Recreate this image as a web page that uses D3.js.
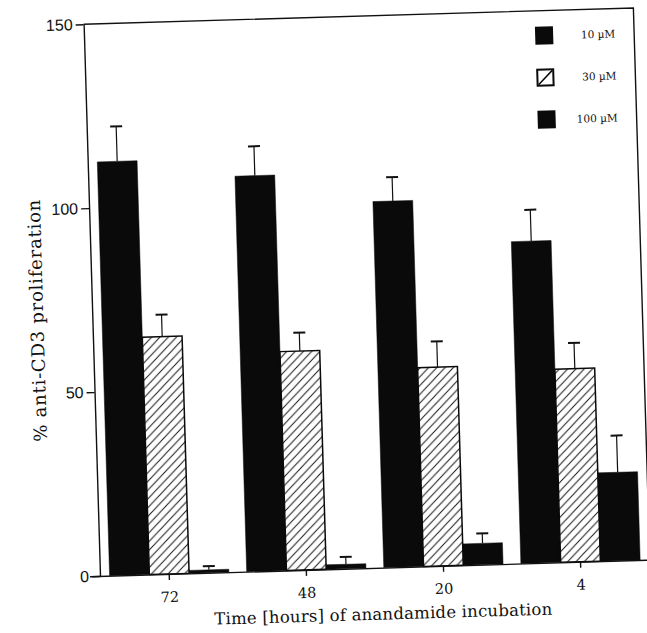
<!DOCTYPE html>
<html>
<head>
<meta charset="utf-8">
<script src="https://cdn.jsdelivr.net/npm/d3@7"></script>
<style>
    body { margin: 0; background: #fff; }
</style>
</head>
<body>
<div class="barChart"></div>
<script>
// values
var groups   = ["72", "48", "20", "4"];
var series   = ["10 \u00b5M", "30 \u00b5M", "100 \u00b5M"];
var vals10   = [112.5, 107.5, 99.5, 87.5];
var err10    = [9.5, 8, 6.5, 8.5];
var vals30   = [64.5, 59.5, 54, 52.5];
var err30    = [6, 5, 7, 7];
var vals100  = [0.8, 1.2, 5.8, 24];
var err100   = [1, 2, 2.7, 10];
var yTicks   = [0, 50, 100, 150];

function barChart ()
{
    var width  = 647;
    var height = 633;
    var plotW  = 550;
    var plotH  = 552;

    var canvas = d3.select(".barChart")
        .append("svg")
        .attr("width", width)
        .attr("height", height);

    // hatch for the 30 uM bars
    var defs = canvas.append("defs");
    defs.append("pattern")
        .attr("id", "hatch")
        .attr("patternUnits", "userSpaceOnUse")
        .attr("width", 8.5)
        .attr("height", 8.5)
        .call(function (p)
        {
            p.append("rect").attr("width", 8.5).attr("height", 8.5).attr("fill", "#fff");
            p.append("path")
                .attr("d", "M-2,2 L2,-2 M0,8.5 L8.5,0 M6.5,10.5 L10.5,6.5")
                .attr("stroke", "#111")
                .attr("stroke-width", 1);
        });

    // the scan is tilted a little, so is the whole chart
    var group = canvas.append("g")
        .attr("transform", "translate(100,576) rotate(-1.7)");

    var x = d3.scaleBand()
        .domain(groups)
        .range([0, plotW])
        .paddingInner(0.13)
        .paddingOuter(0.07);

    var xs = d3.scaleBand()
        .domain(series)
        .range([0, x.bandwidth()]);

    var y = d3.scaleLinear()
        .domain([0, 150])
        .range([0, -plotH]);

    var rows = [];
    var allVals = [vals10, vals30, vals100];
    var allErrs = [err10, err30, err100];
    groups.forEach(function (g, i)
    {
        series.forEach(function (s, j)
        {
            rows.push({ group: g, series: s, idx: j, value: allVals[j][i], err: allErrs[j][i] });
        });
    });

    // frame (top + right)
    group.append("path")
        .attr("d", "M0," + y(150) + " L" + plotW + "," + y(150) + " L" + plotW + "," + y(0))
        .attr("fill", "none")
        .attr("stroke", "#111")
        .attr("stroke-width", 1.4);

    var bars = group.selectAll(".bar")
        .data(rows)
        .enter()
        .append("g")
        .attr("class", "bar");

    bars.append("rect")
        .attr("x", function (d) { return x(d.group) + xs(d.series); })
        .attr("y", function (d) { return y(d.value); })
        .attr("width", xs.bandwidth())
        .attr("height", function (d) { return y(0) - y(d.value); })
        .attr("fill", function (d) { return d.idx == 1 ? "url(#hatch)" : "#0a0a0a"; })
        .attr("stroke", "#0a0a0a")
        .attr("stroke-width", function (d) { return d.idx == 1 ? 1.5 : 0.5; });

    // error bars, upper half only
    bars.append("line")
        .attr("x1", function (d) { return x(d.group) + xs(d.series) + xs.bandwidth() / 2; })
        .attr("x2", function (d) { return x(d.group) + xs(d.series) + xs.bandwidth() / 2; })
        .attr("y1", function (d) { return y(d.value); })
        .attr("y2", function (d) { return y(d.value + d.err); })
        .attr("stroke", "#111")
        .attr("stroke-width", 1.2);

    bars.append("line")
        .attr("x1", function (d) { return x(d.group) + xs(d.series) + xs.bandwidth() / 2 - 6; })
        .attr("x2", function (d) { return x(d.group) + xs(d.series) + xs.bandwidth() / 2 + 6; })
        .attr("y1", function (d) { return y(d.value + d.err); })
        .attr("y2", function (d) { return y(d.value + d.err); })
        .attr("stroke", "#111")
        .attr("stroke-width", 2);

    // axes
    var yAxis = group.append("g")
        .call(d3.axisLeft(y).tickValues(yTicks).tickSize(8).tickSizeOuter(0).tickPadding(3));
    yAxis.selectAll("path, line").attr("stroke", "#111").attr("stroke-width", 1.4);
    yAxis.selectAll("text")
        .attr("fill", "#111")
        .style("font-family", "'Liberation Sans', Arial, sans-serif")
        .style("font-size", "16px");

    var xAxis = group.append("g")
        .call(d3.axisBottom(x).tickSize(6).tickSizeOuter(0));
    xAxis.select(".domain").attr("d", "M-10,0.5 H" + plotW);
    xAxis.selectAll("path, line").attr("stroke", "#111").attr("stroke-width", 1.4);
    xAxis.selectAll("text")
        .attr("y", 28)
        .attr("dy", null)
        .attr("fill", "#111")
        .style("font-family", "'DejaVu Serif', serif")
        .style("font-size", "14.5px");

    // axis titles
    group.append("text")
        .attr("transform", "translate(-49," + (-257) + ") rotate(-90)")
        .attr("text-anchor", "middle")
        .attr("textLength", 242)
        .attr("fill", "#111")
        .style("font-family", "'DejaVu Serif', serif")
        .style("font-size", "18px")
        .text("% anti-CD3 proliferation");

    group.append("text")
        .attr("x", 282)
        .attr("y", 52)
        .attr("text-anchor", "middle")
        .attr("textLength", 338)
        .attr("fill", "#111")
        .style("font-family", "'DejaVu Serif', serif")
        .style("font-size", "16.5px")
        .text("Time [hours] of anandamide incubation");

    // legend
    var legend = group.selectAll(".legend")
        .data(series)
        .enter()
        .append("g")
        .attr("class", "legend")
        .attr("transform", function (d, i) { return "translate(460," + (-527 + i * 42) + ")"; });

    legend.append("rect")
        .attr("x", -8)
        .attr("y", -8)
        .attr("width", 16)
        .attr("height", 16)
        .attr("fill", function (d, i) { return i == 1 ? "#fff" : "#0a0a0a"; })
        .attr("stroke", "#0a0a0a")
        .attr("stroke-width", 2);

    legend.filter(function (d, i) { return i == 1; })
        .append("line")
        .attr("x1", -7).attr("y1", 7).attr("x2", 7).attr("y2", -7)
        .attr("stroke", "#0a0a0a")
        .attr("stroke-width", 1.5);

    legend.append("text")
        .attr("x", 71)
        .attr("y", 4)
        .attr("text-anchor", "end")
        .attr("fill", "#111")
        .style("font-family", "'DejaVu Serif', serif")
        .style("font-size", "10.5px")
        .text(function (d) { return d; });
}

barChart();
</script>
</body>
</html>
